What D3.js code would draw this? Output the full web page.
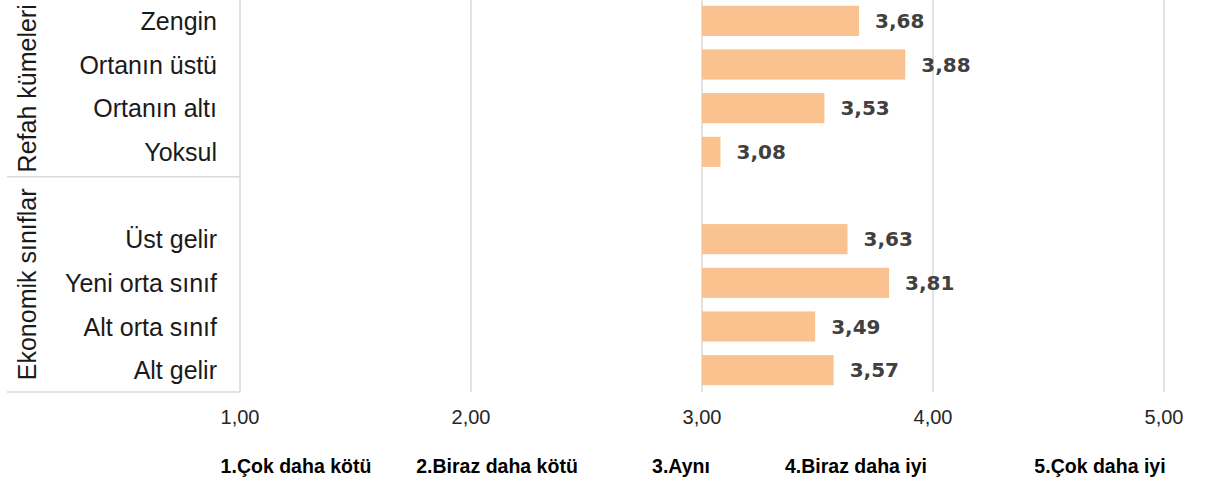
<!DOCTYPE html>
<html lang="tr">
<head>
<meta charset="UTF-8">
<title>Refah kümeleri ve ekonomik sınıflar</title>
<script src="https://d3js.org/d3.v7.min.js"></script>
<style>
  body { margin: 0; background: #fff; }
  .cat { font-family: "Liberation Sans", Arial, sans-serif; font-size: 25px; fill: #1a1a1a; }
  .grp { font-family: "Liberation Sans", Arial, sans-serif; font-size: 25px; fill: #1a1a1a; }
  .tick-lbl { font-family: "Liberation Sans", Arial, sans-serif; font-size: 20px; fill: #262626; }
  .val { font-family: "DejaVu Sans", Verdana, sans-serif; font-weight: bold; font-size: 20px; fill: #404040; }
  .scale-lbl { font-family: "Liberation Sans", Arial, sans-serif; font-weight: bold; font-size: 21px; fill: #000; }
</style>
</head>
<body>
<svg width="1208" height="484"></svg>
<script>
const categories = ["Zengin", "Ortanın üstü", "Ortanın altı", "Yoksul", "",
                    "Üst gelir", "Yeni orta sınıf", "Alt orta sınıf", "Alt gelir"];
const values = [3.68, 3.88, 3.53, 3.08, null, 3.63, 3.81, 3.49, 3.57];
const groups = ["Refah kümeleri", "Ekonomik sınıflar"];
const ticks = [1, 2, 3, 4, 5];
const scaleLabels = ["1.Çok daha kötü", "2.Biraz daha kötü", "3.Aynı", "4.Biraz daha iyi", "5.Çok daha iyi"];

const svg = d3.select("svg");
const plotLeft = 240, plotRight = 1164, plotTop = -1, plotBottom = 392;
const grid = "#d9d9d9";

const x = d3.scaleLinear().domain([1, 5]).range([plotLeft, plotRight]);
const y = d3.scaleBand().domain(categories.map((c, i) => i)).range([plotTop, plotBottom])
  .paddingInner(0.31).paddingOuter(0.155);

// gridlines
svg.append("g").selectAll("line").data(ticks.slice(1)).join("line")
  .attr("x1", d => x(d)).attr("x2", d => x(d))
  .attr("y1", 0).attr("y2", plotBottom)
  .attr("stroke", grid).attr("stroke-width", 1.5);

// category axis line and group separators
svg.append("line").attr("x1", plotLeft).attr("x2", plotLeft).attr("y1", 0).attr("y2", plotBottom)
  .attr("stroke", grid).attr("stroke-width", 1.5);
const sepY = (y(3) + y.bandwidth() + y(4)) / 2 + 3;
[sepY, plotBottom].forEach(v => {
  svg.append("line").attr("x1", 7).attr("x2", plotLeft).attr("y1", v).attr("y2", v)
    .attr("stroke", grid).attr("stroke-width", 1.5);
});

// bars
const base = 3;
const barData = values.map((v, i) => ({ v, i })).filter(d => d.v != null);
svg.append("g").selectAll("rect").data(barData).join("rect")
  .attr("x", d => x(Math.min(base, d.v)))
  .attr("width", d => Math.abs(x(d.v) - x(base)))
  .attr("y", d => y(d.i))
  .attr("height", y.bandwidth())
  .attr("fill", "#f9c28f");

// value labels
svg.append("g").selectAll("text").data(barData).join("text")
  .attr("class", "val")
  .attr("x", d => x(d.v) + 16)
  .attr("y", d => y(d.i) + y.bandwidth() / 2)
  .attr("dy", "0.36em")
  .text(d => d.v.toFixed(2).replace(".", ","));

// category labels
svg.append("g").selectAll("text").data(categories).join("text")
  .attr("class", "cat")
  .attr("x", plotLeft - 23)
  .attr("y", (d, i) => y(i) + y.bandwidth() / 2)
  .attr("dy", "0.36em")
  .attr("text-anchor", "end")
  .text(d => d);

// group labels
const gBounds = [[0, sepY], [sepY, plotBottom]];
groups.forEach((g, k) => {
  const cy = (gBounds[k][0] + gBounds[k][1]) / 2;
  svg.append("text").attr("class", "grp")
    .attr("transform", `translate(36,${cy}) rotate(-90)`)
    .attr("text-anchor", "middle")
    .text(g);
});

// tick labels
svg.append("g").selectAll("text").data(ticks).join("text")
  .attr("class", "tick-lbl")
  .attr("x", d => x(d))
  .attr("y", 424)
  .attr("text-anchor", "middle")
  .text(d => d.toFixed(2).replace(".", ","));

// scale description labels (condensed look)
const labelCenters = [296, 497, 681, 856, 1100];
svg.append("g").selectAll("text").data(scaleLabels).join("text")
  .attr("class", "scale-lbl")
  .attr("transform", (d, i) => `translate(${labelCenters[i]},473) scale(0.93,1)`)
  .attr("text-anchor", "middle")
  .text(d => d);
</script>
</body>
</html>
